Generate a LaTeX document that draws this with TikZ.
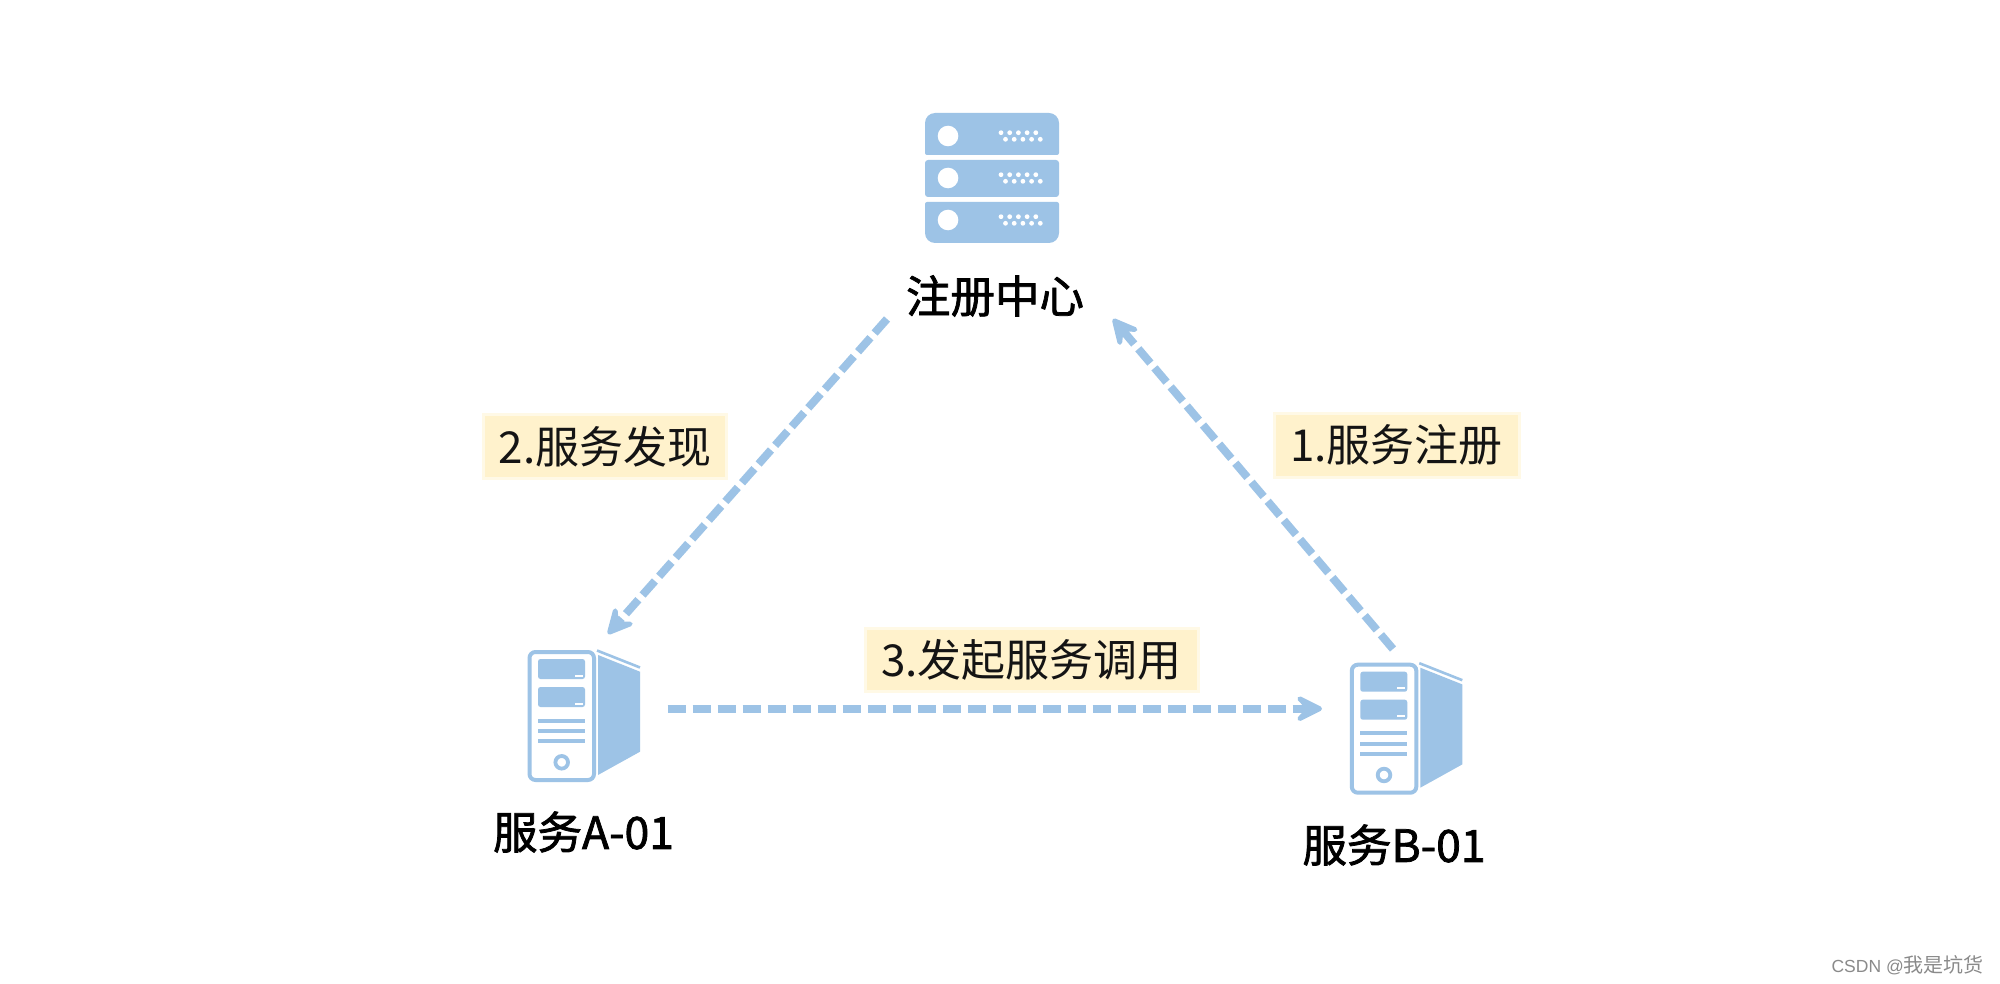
\documentclass[tikz,border=0pt]{standalone}
\usepackage{fontspec}
\usetikzlibrary{arrows.meta}
\setmainfont{Noto Sans CJK SC}
\newfontfamily\titlefont[FakeBold=1.7]{Noto Sans CJK SC}
\newfontfamily\latinfont{Liberation Sans}
\definecolor{iconblue}{HTML}{9DC3E6}
\definecolor{labelbg}{HTML}{FFF2CC}
\definecolor{labelglow}{HTML}{FFF9E6}
\definecolor{inktext}{HTML}{141414}
\definecolor{markgray}{HTML}{8A8A8A}
\newcommand{\taglift}[1]{\raisebox{2.5pt}{#1}}
\tikzset{
  x=1pt,y=-1pt,
  flow/.style={draw=iconblue,line width=8pt,dash pattern=on 18.7pt off 6.3pt,
    -{Stealth[length=36pt,width=36pt,inset=17pt,round,line width=6pt]}},
  tag/.style={fill=labelbg,draw=labelglow,line width=3pt,inner sep=0pt,text=inktext,
    font=\fontsize{44}{50}\selectfont},
  title/.style={inner sep=0pt,text=black,font=\fontsize{44.5}{50}\selectfont\titlefont},
  computer/.pic={
    \draw[iconblue,line width=4pt,rounded corners=6pt] (529.5,652) rectangle (594,780);
    \fill[iconblue,rounded corners=2.5pt] (538,659) rectangle (585,679);
    \fill[iconblue,rounded corners=2.5pt] (538,687) rectangle (585,707);
    \fill[white] (575,674.5) rectangle (583,676.5);
    \fill[white] (575,702.5) rectangle (583,704.5);
    \fill[iconblue] (538,718.7) rectangle (585,722.7);
    \fill[iconblue] (538,729) rectangle (585,733);
    \fill[iconblue] (538,739.3) rectangle (585,743.3);
    \draw[iconblue,line width=3.8pt] (561.7,762.3) circle (6.3);
    \fill[iconblue] (598,655) -- (640,671.7) -- (640,751.7) -- (598,775) -- cycle;
    \draw[iconblue,line width=2.6pt] (597,650.5) -- (640,667.5);
  },
  serverdots/.pic={
    \foreach \i in {0,...,4}{
      \fill[white] (1001+8.7*\i,-3.3) circle (2.4);
      \fill[white] (1005.5+8.7*\i,3.3) circle (2.4);
    }
  },
}
\begin{document}
\begin{tikzpicture}
\useasboundingbox[fill=white] (0,0) rectangle (2000,984);
% registry icon
\fill[iconblue,rounded corners=10pt] (925,134) -- (925,113) -- (1059,113) -- (1059,134)
  [rounded corners=2pt] -- (1059,155) -- (925,155) -- cycle;
\fill[iconblue,rounded corners=3pt] (925,160) rectangle (1059,197);
\fill[iconblue,rounded corners=2pt] (925,223) -- (925,202) -- (1059,202) -- (1059,223)
  [rounded corners=10pt] -- (1059,243) -- (925,243) -- cycle;
\fill[white] (948,136) circle (10.3);
\fill[white] (948,178) circle (10.3);
\fill[white] (948,220) circle (10.3);
\pic at (0,136) {serverdots};
\pic at (0,178) {serverdots};
\pic at (0,220) {serverdots};
% computers
\pic at (0,0) {computer};
\pic at (822.3,12.7) {computer};
% titles
\node[title] (registry) at (995,296) {注册中心};
\node[title] (serviceA) at (583.5,832) {服务A-01};
\node[title] (serviceB) at (1394,845) {服务B-01};
% labels
\node[tag,minimum width=243pt,minimum height=64pt] (lab2) at (605,446.5) {\taglift{2.服务发现}};
\node[tag,minimum width=245pt,minimum height=64pt] (lab1) at (1396.5,445) {\taglift{1.服务注册}};
\node[tag,minimum width=333pt,minimum height=63pt] (lab3) at (1031.5,659.5) {\taglift{3.发起服务调用}};
% connectors
\coordinate (s2) at (887,319);
\coordinate (e2) at (608,634);
\coordinate (s1) at (1393,649);
\coordinate (e1) at (1113,319);
\coordinate (s3) at (667.5,708.7);
\coordinate (e3) at (1322,708.7);
\draw[flow] (s2) -- (e2);
\draw[flow] (s1) -- (e1);
\draw[flow] (s3) -- (e3);
% watermark
\node[anchor=east,inner sep=0pt,text=markgray,font=\fontsize{20}{24}\selectfont] (mark) at (1984,965) {{\latinfont\fontsize{17.5}{24}\selectfont CSDN @}我是坑货};
\end{tikzpicture}
\end{document}
